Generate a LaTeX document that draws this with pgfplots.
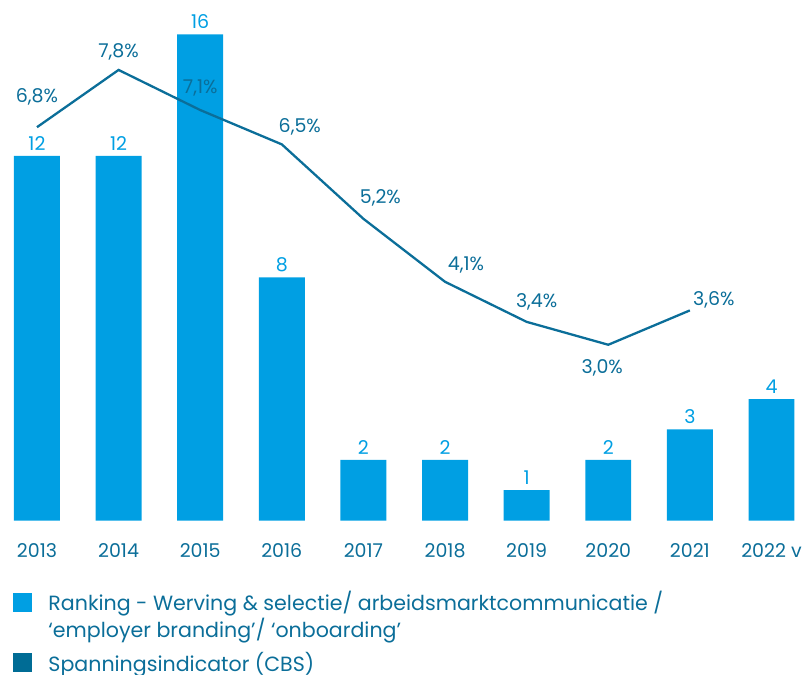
\documentclass[border=0pt]{standalone}
\usepackage{pgfplots}
\pgfplotsset{compat=1.18}
\usepackage{pgfplotstable}
\usepackage{fontspec}
\setmainfont{Poppins}
\definecolor{barblue}{HTML}{009FE3}
\definecolor{darkblue}{HTML}{0B6E99}
\definecolor{legdark}{HTML}{006C95}

% Ranking per year
\pgfplotstableread{
x y
0 12
1 12
2 16
3 8
4 2
5 2
6 1
7 2
8 3
9 4
}\bardata

% Spanningsindicator (CBS), label offsets in pt
\pgfplotstableread{
x y dx dy
0 6.8 0 30
1 7.8 0 18
2 7.1 0 22
3 6.5 18 18
4 5.2 17 21
5 4.1 21 17
6 3.4 10 20
7 3.0 -6 -23
8 3.6 24 11
}\linedata

\begin{document}
\begin{tikzpicture}[font=\fontsize{19}{23}\selectfont]
\begin{axis}[
    scale only axis,
    width=805pt, height=521pt,
    xmin=-0.453, xmax=9.40,
    ymin=0, ymax=17.13,
    axis line style={draw=none},
    major tick length=0pt,
    ytick=\empty,
    xtick={0,...,9},
    xticklabels={2013,2014,2015,2016,2017,2018,2019,2020,2021,2022 v},
    xticklabel style={anchor=center, yshift=-30pt, text=darkblue},
    ybar, bar width=46pt,
    nodes near coords,
    point meta=y,
    /pgf/number format/assume math mode=true,
    every node near coord/.append style={text=barblue, anchor=south, yshift=2pt},
]
\addplot[fill=barblue, draw=none] table[x=x, y=y] {\bardata};
\end{axis}
\begin{axis}[
    scale only axis,
    width=805pt, height=521pt,
    xmin=-0.453, xmax=9.40,
    ymin=-0.07, ymax=9.02,
    hide axis,
    /pgf/number format/assume math mode=true,
    legend cell align=left,
    legend style={draw=none, fill=none, at={(0.016,-0.132)}, anchor=north west,
        inner sep=0pt, row sep=9pt, text=darkblue,
        font=\fontsize{20.6}{27}\selectfont,
        /tikz/every odd column/.append style={column sep=15pt},
        cells={align=left, inner sep=0pt}},
]
\addplot[darkblue, line width=2.3pt, mark=none,
    nodes near coords={\pgfmathprintnumber[fixed, fixed zerofill, precision=1, use comma]{\pgfplotspointmeta}\%},
    point meta=y,
    visualization depends on={\thisrow{dx}\as\dx},
    visualization depends on={\thisrow{dy}\as\dy},
    every node near coord/.append style={anchor=center, xshift=\dx pt, yshift=\dy pt, text=darkblue},
    forget plot,
] table[x=x, y=y] {\linedata};
\addlegendimage{legend image code/.code={\fill[barblue] (0pt,4.5pt) rectangle (18pt,22.5pt);}}
\addlegendentry{Ranking - Werving \& selectie/ arbeidsmarktcommunicatie /\\‘employer branding’/ ‘onboarding’}
\addlegendimage{legend image code/.code={\fill[legdark] (0pt,-9pt) rectangle (18pt,9pt);}}
\addlegendentry{Spanningsindicator (CBS)}
\end{axis}
\end{tikzpicture}
\end{document}
